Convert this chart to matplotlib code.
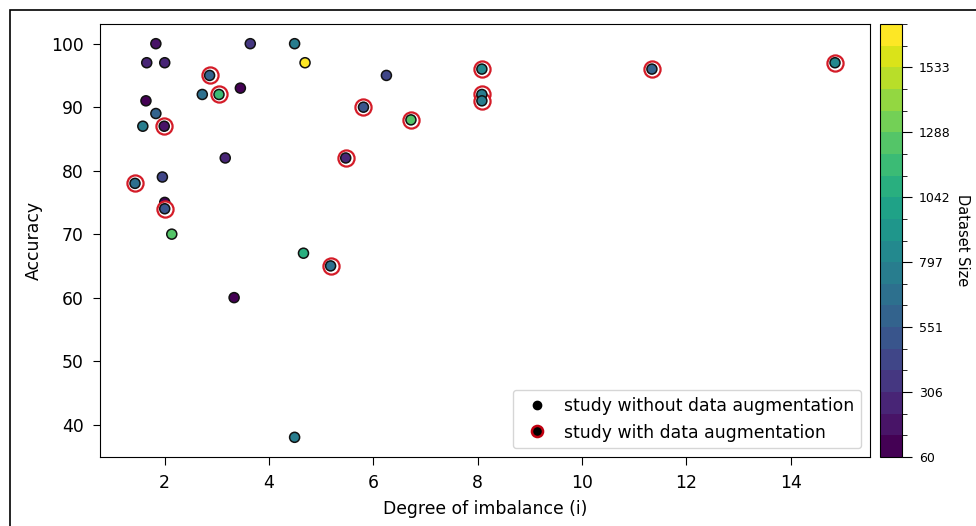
import numpy as np
import matplotlib
matplotlib.use("Agg")
import matplotlib.pyplot as plt
from matplotlib.colors import BoundaryNorm
from matplotlib.lines import Line2D
from matplotlib.patches import Rectangle

# studies without data augmentation
plain_imbalance = [1.83, 1.655, 2.0, 1.64, 1.83, 1.58, 1.955, 2.0, 2.135, 2.72,
                   3.45, 3.16, 3.64, 4.49, 4.69, 6.25, 4.66, 3.33, 4.49]
plain_accuracy = [100, 97, 97, 91, 89, 87, 79, 75, 70, 92,
                  93, 82, 100, 100, 97, 95, 67, 60, 38]
plain_size = [200, 260, 240, 90, 560, 760, 440, 100, 1250, 690,
              90, 240, 380, 780, 1697, 400, 1100, 60, 780]

# studies with data augmentation
aug_imbalance = [1.43, 1.99, 2.0, 2.86, 3.04, 5.47, 5.81, 5.18, 6.72,
                 8.08, 8.08, 8.08, 11.34, 14.85]
aug_accuracy = [78, 87, 74, 95, 92, 82, 90, 65, 88,
                96, 92, 91, 96, 97]
aug_size = [700, 150, 500, 560, 1150, 250, 500, 650, 1230,
            800, 760, 760, 560, 800]

bounds = np.linspace(60, 1697, 21)
cmap = plt.get_cmap("viridis")
norm = BoundaryNorm(bounds, cmap.N)

fig = plt.figure(figsize=(9.76, 5.26), dpi=100)
ax = fig.add_axes([100 / 976, 69 / 526, 770 / 976, 433 / 526])
cax = fig.add_axes([880 / 976, 69 / 526, 22 / 976, 433 / 526])

sc = ax.scatter(plain_imbalance, plain_accuracy, c=plain_size, cmap=cmap, norm=norm,
                s=52, edgecolors="#111111", linewidths=1.1, zorder=2)
ax.scatter(aug_imbalance, aug_accuracy, s=135, facecolors="white",
           edgecolors="#d41c28", linewidths=1.6, zorder=3)
ax.scatter(aug_imbalance, aug_accuracy, c=aug_size, cmap=cmap, norm=norm,
           s=52, edgecolors="#111111", linewidths=1.1, zorder=4)

ax.set_xlabel("Degree of imbalance (i)", fontsize=12.4, labelpad=6)
ax.set_ylabel("Accuracy", fontsize=12.4, labelpad=6)
ax.tick_params(labelsize=12.4, length=5.4, pad=6.5)

handles = [
    Line2D([], [], marker="o", linestyle="", color="black", markersize=6),
    Line2D([], [], marker="o", linestyle="", markerfacecolor="black",
           markeredgecolor="#c00010", markeredgewidth=1.8, markersize=8),
]
ax.legend(handles, ["study without data augmentation", "study with data augmentation"],
          loc="lower right", fontsize=12.4, handletextpad=0.6)

cbar = fig.colorbar(sc, cax=cax)
cbar.set_ticks(bounds[::3])
cbar.set_ticklabels([f"{v:.0f}" for v in bounds[::3]])
cbar.ax.set_yticks(bounds, minor=True)
cbar.ax.tick_params(which="major", labelsize=9, length=7, pad=5)
cbar.ax.tick_params(which="minor", length=3.5)
cbar.set_label("Dataset Size", rotation=270, labelpad=14, fontsize=10.5)

fig.patches.append(Rectangle((10 / 976, -0.1), 1.2, 1.1 - 10 / 526,
                             transform=fig.transFigure, fill=False,
                             edgecolor="black", linewidth=1.2))

fig.savefig("out.png", dpi=100)
